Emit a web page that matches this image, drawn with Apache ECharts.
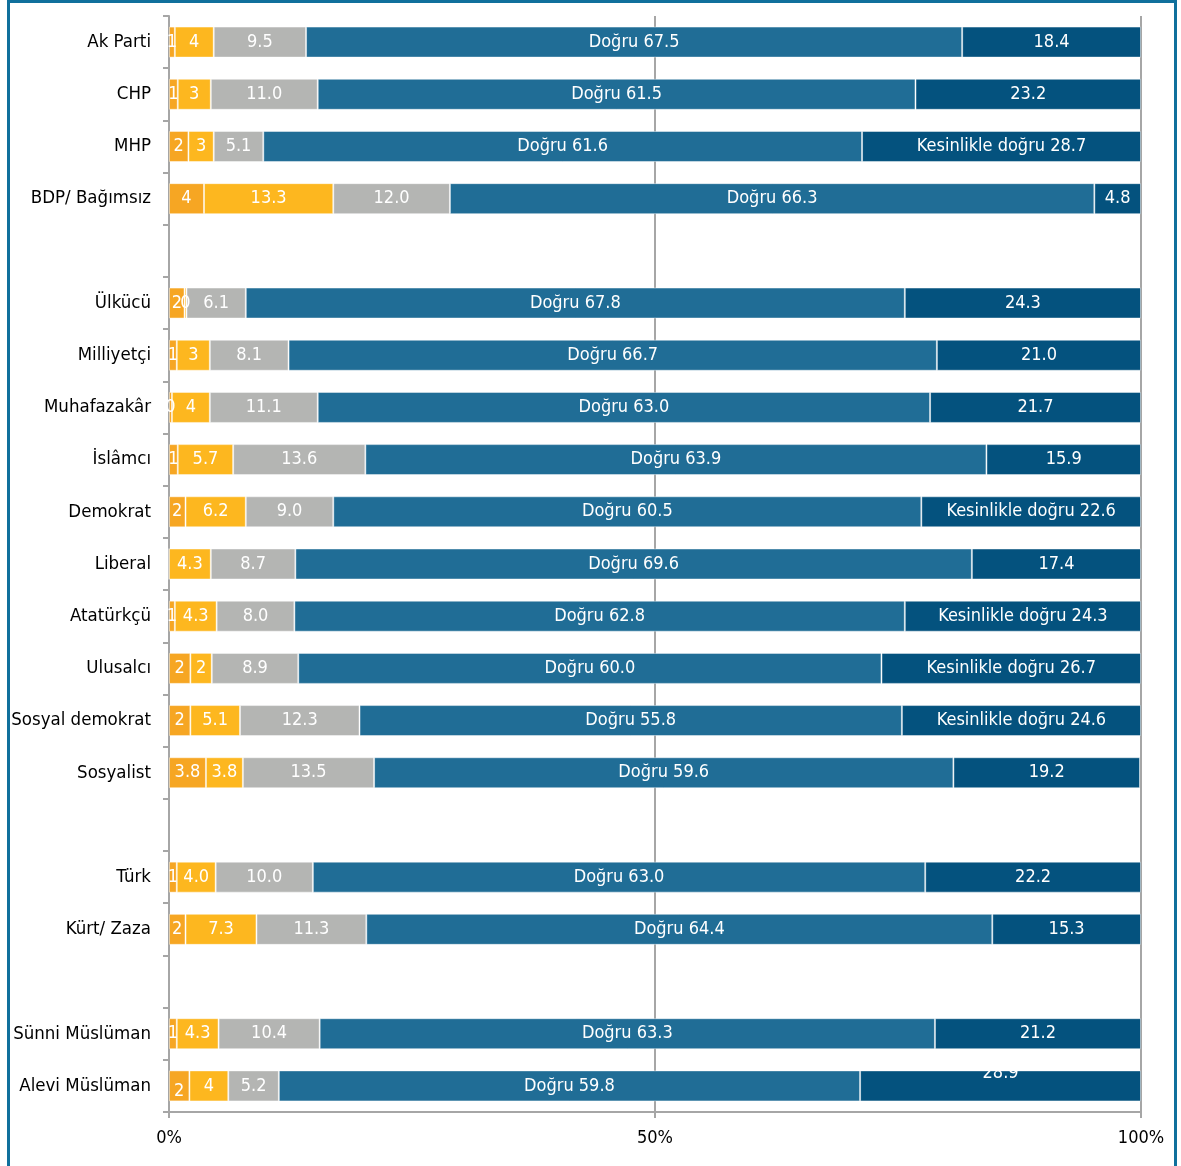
<!DOCTYPE html>
<html>
<head>
<meta charset="utf-8">
<script src="https://cdn.jsdelivr.net/npm/echarts@6/dist/echarts.min.js"></script>
<style>
	html, body { margin: 0; padding: 0; background: #fff; }
	.frame {
		position: absolute; left: 7px; top: 0; width: 1170px; height: 1180px;
		border: 3px solid #10709c; box-sizing: border-box;
	}
	#chart { position: absolute; left: 0; top: 0; width: 1181px; height: 1166px; }
</style>
</head>
<body>
<div class="frame"></div>
<div id="chart"></div>
<script>
	// kategoriler ('' = boş satır)
	var kategoriler = ['Ak Parti', 'CHP', 'MHP', 'BDP/ Bağımsız', '',
		'Ülkücü', 'Milliyetçi', 'Muhafazakâr', 'İslâmcı', 'Demokrat', 'Liberal',
		'Atatürkçü', 'Ulusalcı', 'Sosyal demokrat', 'Sosyalist', '',
		'Türk', 'Kürt/ Zaza', '', 'Sünni Müslüman', 'Alevi Müslüman']

	var kesinlikleYanlis = [0.6, 0.9, 2.0, 3.6, null, 1.6, 0.8, 0.3, 0.9, 1.7, 0, 0.6, 2.2, 2.2, 3.8, null, 0.8, 1.7, null, 0.8, 2.1]
	var kesinlikleYanlisEtiket = ['1', '1', '2', '4', '', '2', '1', '0', '1', '2', '', '1', '2', '2', '3.8', '', '1', '2', '', '1', '2']
	var yanlis = [4.0, 3.4, 2.6, 13.3, null, 0.2, 3.4, 3.9, 5.7, 6.2, 4.3, 4.3, 2.2, 5.1, 3.8, null, 4.0, 7.3, null, 4.3, 4.0]
	var yanlisEtiket = ['4', '3', '3', '13.3', '', '0', '3', '4', '5.7', '6.2', '4.3', '4.3', '2', '5.1', '3.8', '', '4.0', '7.3', '', '4.3', '4']
	var kararsiz = [9.5, 11.0, 5.1, 12.0, null, 6.1, 8.1, 11.1, 13.6, 9.0, 8.7, 8.0, 8.9, 12.3, 13.5, null, 10.0, 11.3, null, 10.4, 5.2]
	var dogru = [67.5, 61.5, 61.6, 66.3, null, 67.8, 66.7, 63.0, 63.9, 60.5, 69.6, 62.8, 60.0, 55.8, 59.6, null, 63.0, 64.4, null, 63.3, 59.8]
	var kesinlikleDogru = [18.4, 23.2, 28.7, 4.8, null, 24.3, 21.0, 21.7, 15.9, 22.6, 17.4, 24.3, 26.7, 24.6, 19.2, null, 22.2, 15.3, null, 21.2, 28.9]
	// "Kesinlikle doğru" yazısı görünen satırlar
	var uzunEtiketliler = ['MHP', 'Demokrat', 'Atatürkçü', 'Ulusalcı', 'Sosyal demokrat']
	var xEtiketleri = ['0%', '50%', '100%']

	var yazi = '"DejaVu Sans Condensed", "DejaVu Sans", sans-serif'

	function seri(ad, veri, renk, etiketFn) {
		return {
			name: ad,
			type: 'bar',
			stack: 'toplam',
			barWidth: 31,
			data: veri,
			itemStyle: {
				color: renk,
				borderColor: 'rgba(255,255,255,0.45)',
				borderWidth: 1
			},
			label: {
				show: true,
				position: 'inside',
				color: '#fff',
				fontSize: 18,
				fontFamily: yazi,
				formatter: etiketFn
			}
		}
	}

	var chart = echarts.init(document.getElementById('chart'))

	var s1 = seri('Kesinlikle yanlış', kesinlikleYanlis, '#f6a623', function (p) {
		return kesinlikleYanlisEtiket[p.dataIndex]
	})
	var s2 = seri('Yanlış', yanlis, '#fdb71f', function (p) {
		return yanlisEtiket[p.dataIndex]
	})
	var s3 = seri('Kararsız', kararsiz, '#b4b5b3', function (p) {
		return p.value == null ? '' : p.value.toFixed(1)
	})
	var s4 = seri('Doğru', dogru, '#206d96', function (p) {
		return p.value == null ? '' : 'Doğru ' + p.value.toFixed(1)
	})
	var s5 = seri('Kesinlikle doğru', kesinlikleDogru, '#04527e', function (p) {
		if (p.value == null) return ''
		if (uzunEtiketliler.indexOf(p.name) >= 0) return 'Kesinlikle doğru ' + p.value.toFixed(1)
		return p.value.toFixed(1)
	})

	// Alevi satırında elle kaydırılmış etiketler
	var son = kategoriler.length - 1
	s1.data = s1.data.map(function (v, i) {
		return i === son ? { value: v, label: { offset: [0, 5] } } : v
	})
	s5.data = s5.data.map(function (v, i) {
		return i === son ? { value: v, label: { offset: [0, -13] } } : v
	})

	chart.setOption({
		animation: false,
		grid: { left: 169, right: 40, top: 16, bottom: 54 },
		xAxis: {
			type: 'value',
			min: 0,
			max: 100,
			interval: 50,
			axisLine: { show: true, lineStyle: { color: '#a6a6a6', width: 2 } },
			axisTick: { show: true, length: 6, lineStyle: { color: '#a6a6a6', width: 2 } },
			axisLabel: {
				color: '#000',
				fontSize: 18,
				fontFamily: yazi,
				margin: 17,
				formatter: function (v) { return xEtiketleri[v / 50] }
			},
			splitLine: { show: true, lineStyle: { color: '#a6a6a6', width: 2 } }
		},
		yAxis: {
			type: 'category',
			inverse: true,
			data: kategoriler,
			axisLine: { show: true, lineStyle: { color: '#a6a6a6', width: 2 } },
			axisTick: { show: true, length: 6, lineStyle: { color: '#a6a6a6', width: 2 } },
			axisLabel: {
				color: '#000',
				fontSize: 18.5,
				fontFamily: yazi,
				margin: 18,
				interval: 0
			}
		},
		series: [s1, s2, s3, s4, s5]
	})
</script>
</body>
</html>
